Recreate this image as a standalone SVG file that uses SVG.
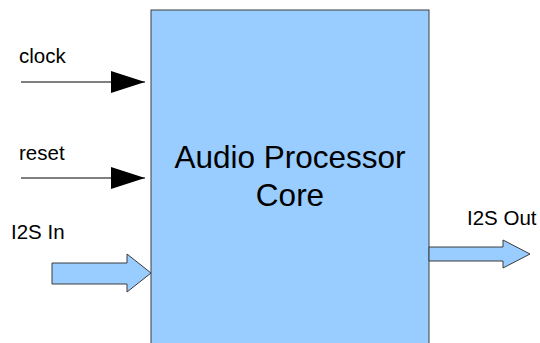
<svg xmlns="http://www.w3.org/2000/svg" width="540" height="343" viewBox="0 0 540 343">
<style>
.t{font-family:"Liberation Sans",Arial,sans-serif;fill:#000}
.lbl{font-size:20.5px}
.big{font-size:31.5px;text-anchor:middle}
.blk{fill:#99ccff;stroke:#3c3c3c;stroke-width:1}
.ln{stroke:#000;stroke-width:1;fill:none}
</style>
<defs>
<marker id="ah" markerUnits="userSpaceOnUse" markerWidth="34" markerHeight="22" refX="34" refY="11" orient="auto">
<path d="M0,0 L34,11 L0,22 Z" fill="#000"/>
</marker>
</defs>
<g id="core">
<rect class="blk" x="151" y="10" width="278" height="340"/>
<text class="t big" x="290" y="168">Audio Processor</text>
<text class="t big" x="290" y="206">Core</text>
</g>
<g id="connectors">
<line class="ln" x1="21" y1="82" x2="145" y2="82" marker-end="url(#ah)"/>
<line class="ln" x1="21" y1="178" x2="145" y2="178" marker-end="url(#ah)"/>
<path class="blk" d="M52,263 L127,263 L127,254 L151,273 L127,292 L127,284 L52,284 Z"/>
<path class="blk" d="M429,247 L503,247 L503,240 L530,254 L503,268 L503,261 L429,261 Z"/>
</g>
<g id="labels">
<text class="t lbl" x="19" y="63">clock</text>
<text class="t lbl" x="19" y="160">reset</text>
<text class="t lbl" x="11" y="239">I2S In</text>
<text class="t lbl" x="467" y="225">I2S Out</text>
</g>
</svg>
